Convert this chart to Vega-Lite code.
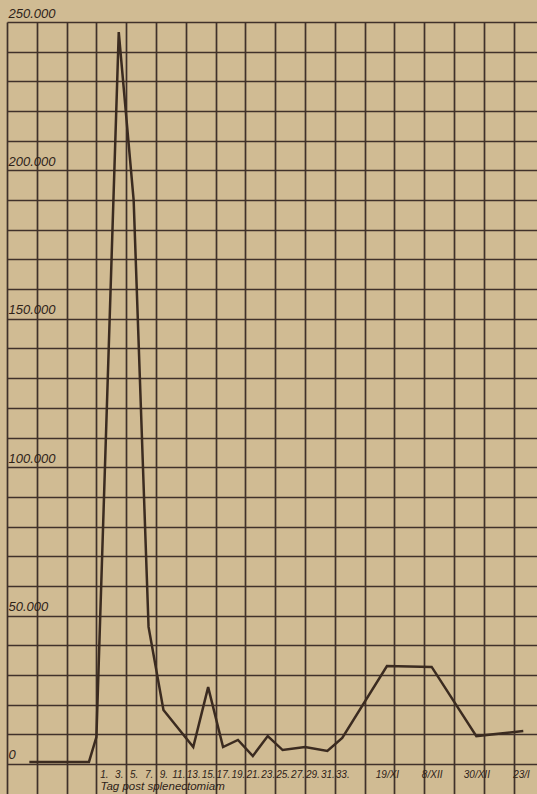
{
  "$schema": "https://vega.github.io/schema/vega-lite/v6.json",
  "autosize": {"type": "none"},
  "width": 530,
  "height": 772,
  "padding": {"left": 7, "top": 22, "right": 0, "bottom": 0},
  "background": "#d0bb93",
  "config": {
    "view": {"stroke": null},
    "axis": {"labelFont": "Liberation Sans", "titleFont": "Liberation Sans"}
  },
  "data": {
    "values": [
      {"tag": -9, "leukozyten": 700},
      {"tag": -1, "leukozyten": 700},
      {"tag": 0, "leukozyten": 9100},
      {"tag": 3, "leukozyten": 246600},
      {"tag": 5, "leukozyten": 190000},
      {"tag": 7, "leukozyten": 46200},
      {"tag": 9, "leukozyten": 18200},
      {"tag": 13, "leukozyten": 5700},
      {"tag": 15, "leukozyten": 25900},
      {"tag": 17, "leukozyten": 5700},
      {"tag": 19, "leukozyten": 8100},
      {"tag": 21, "leukozyten": 2700},
      {"tag": 23, "leukozyten": 9400},
      {"tag": 25, "leukozyten": 4700},
      {"tag": 28, "leukozyten": 5700},
      {"tag": 31, "leukozyten": 4400},
      {"tag": 33, "leukozyten": 8800},
      {"tag": 39, "leukozyten": 33000},
      {"tag": 45, "leukozyten": 32700},
      {"tag": 51, "leukozyten": 9400},
      {"tag": 57.3, "leukozyten": 11100}
    ]
  },
  "resolve": {"axis": {"x": "independent"}},
  "encoding": {
    "y": {
      "field": "leukozyten", "type": "quantitative",
      "scale": {"domain": [-10108, 250000], "nice": false, "zero": false},
      "axis": {
        "title": null, "ticks": false, "tickSize": 0, "domain": false,
        "grid": true, "gridColor": "#40312a", "gridWidth": 1.7, "gridOpacity": 1,
        "values": [0, 10000, 20000, 30000, 40000, 50000, 60000, 70000, 80000, 90000, 100000, 110000, 120000, 130000, 140000, 150000, 160000, 170000, 180000, 190000, 200000, 210000, 220000, 230000, 240000, 250000],
        "labelExpr": "datum.value % 50000 == 0 ? (datum.value == 0 ? '0' : (datum.value / 1000) + '.000') : ''",
        "labelAlign": "left", "labelBaseline": "bottom", "labelPadding": -1, "labelOffset": -2,
        "labelFontSize": 13, "labelFontStyle": "italic", "labelColor": "#2e2218",
        "labelFlush": false, "labelOverlap": false, "labelBound": false
      }
    }
  },
  "layer": [
    {
      "mark": {"type": "point", "opacity": 0},
      "encoding": {
        "x": {
          "field": "tag", "type": "quantitative",
          "scale": {"domain": [-12, 59.14], "nice": false, "zero": false},
          "axis": {
            "orient": "top", "title": null, "labels": false, "ticks": false, "domain": false,
            "grid": true, "gridColor": "#40312a", "gridWidth": 1.7, "gridOpacity": 1,
            "values": [-12, -8, -4, 0, 4, 8, 12, 16, 20, 24, 28, 32, 36, 40, 44, 48, 52, 56]
          }
        }
      }
    },
    {
      "mark": {"type": "line", "color": "#3b2b20", "strokeWidth": 2.5, "strokeJoin": "miter"},
      "encoding": {
        "x": {
          "field": "tag", "type": "quantitative",
          "axis": {
            "orient": "bottom", "grid": false, "ticks": false, "tickSize": 0, "domain": false,
            "values": [1, 3, 5, 7, 9, 11, 13, 15, 17, 19, 21, 23, 25, 27, 29, 31, 33, 39, 45, 51, 57],
            "labelExpr": "datum.value == 39 ? '19/XI' : datum.value == 45 ? '8/XII' : datum.value == 51 ? '30/XII' : datum.value == 57 ? '23/I' : datum.value + '.'",
            "labelPadding": -17, "labelBaseline": "alphabetic", "labelAlign": "center",
            "labelFontSize": 10, "labelFontStyle": "italic", "labelColor": "#2e2218",
            "labelFlush": false, "labelOverlap": false, "labelBound": false,
            "title": "Tag post splenectomiam",
            "titleX": 93, "titleY": -5, "titleAlign": "left", "titleAnchor": "start",
            "titleBaseline": "alphabetic", "titleFontSize": 11.5, "titleFontStyle": "italic",
            "titleFontWeight": "normal", "titleColor": "#2e2218"
          }
        }
      }
    }
  ]
}
